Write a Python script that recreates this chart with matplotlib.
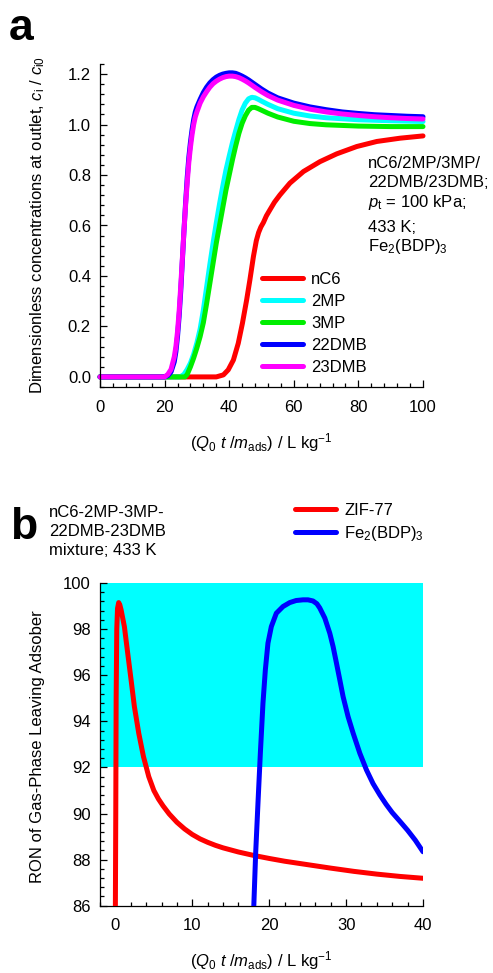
import numpy as np
import matplotlib
matplotlib.use("Agg")
import matplotlib.pyplot as plt
from matplotlib.ticker import MultipleLocator, FormatStrFormatter

plt.rcParams['font.family'] = ['Liberation Sans', 'DejaVu Sans']
plt.rcParams['mathtext.fontset'] = 'custom'
plt.rcParams['mathtext.rm'] = 'Liberation Sans'
plt.rcParams['mathtext.it'] = 'Liberation Sans:italic'
plt.rcParams['mathtext.bf'] = 'Liberation Sans:bold'

# ---------------- Panel a data ----------------
species = ["nC6", "2MP", "3MP", "22DMB", "23DMB"]
colors_a = ["#ff0000", "#00ffff", "#00ee00", "#0000ff", "#ff00ff"]

x_nC6 = [0, 36, 38.2, 39.7, 41.3, 42.8, 44.1, 45.4, 46.4, 47.5, 48.4, 49.1, 49.8, 50.6,
         51.5, 52.6, 54.0, 55.7, 58.8, 63.0, 68.1, 73.3, 79.5, 85.7, 92.9, 100]
y_nC6 = [0, 0, 0.008, 0.028, 0.067, 0.133, 0.213, 0.305, 0.384, 0.477, 0.54, 0.572,
         0.594, 0.612, 0.638, 0.662, 0.692, 0.721, 0.768, 0.814, 0.853, 0.884, 0.913,
         0.933, 0.946, 0.955]

x_2MP = [0, 24.8, 26, 27, 28, 29, 30, 31, 32, 33, 34, 35, 36, 37, 38, 39, 40, 41, 42, 43,
         44, 45, 46, 47, 48, 49, 50, 52, 55, 60, 65, 70, 80, 90, 100]
y_2MP = [0, 0, 0.01, 0.03, 0.055, 0.09, 0.135, 0.19, 0.265, 0.355, 0.445, 0.53, 0.61,
         0.685, 0.755, 0.82, 0.875, 0.928, 0.975, 1.02, 1.058, 1.085, 1.102, 1.108, 1.106,
         1.10, 1.093, 1.08, 1.063, 1.045, 1.034, 1.027, 1.019, 1.015, 1.012]

x_3MP = [0, 26.3, 27, 28, 29, 30, 31, 32, 33, 34, 35, 36, 37, 38, 39, 40, 41, 42, 43, 44,
         45, 46, 47, 48, 49, 50, 52, 55, 60, 65, 70, 80, 90, 100]
y_3MP = [0, 0, 0.01, 0.04, 0.075, 0.115, 0.16, 0.215, 0.29, 0.37, 0.45, 0.53, 0.60,
         0.67, 0.74, 0.80, 0.86, 0.915, 0.965, 1.005, 1.035, 1.057, 1.068, 1.068, 1.063,
         1.057, 1.045, 1.03, 1.013, 1.004, 0.999, 0.994, 0.992, 0.992]

x_22DMB = [0, 20, 21, 22, 23, 23.5, 24, 24.5, 25, 25.5, 26, 26.5, 27, 27.5, 28, 28.5, 29,
           29.5, 30, 31, 32, 33, 34, 35, 36, 37, 38, 39, 40, 41, 42, 43, 44, 45, 46, 47,
           48, 50, 52, 55, 60, 65, 70, 75, 80, 85, 90, 95, 100]
y_22DMB = [0, 0, 0.005, 0.02, 0.06, 0.10, 0.16, 0.24, 0.34, 0.46, 0.58, 0.69, 0.79, 0.87,
           0.93, 0.98, 1.02, 1.05, 1.07, 1.10, 1.127, 1.148, 1.165, 1.178, 1.188, 1.195,
           1.200, 1.203, 1.205, 1.205, 1.203, 1.198, 1.192, 1.185, 1.177, 1.168, 1.159,
           1.141, 1.125, 1.106, 1.085, 1.07, 1.059, 1.05, 1.044, 1.039, 1.036, 1.033, 1.031]

x_23DMB = [0, 20, 21, 22, 23, 23.5, 24, 24.5, 25, 25.5, 26, 26.5, 27, 27.5, 28, 28.5, 29,
           29.5, 30, 31, 32, 33, 34, 35, 36, 37, 38, 39, 40, 41, 42, 43, 44, 45, 46, 47,
           48, 50, 52, 55, 60, 65, 70, 75, 80, 85, 90, 95, 100]
y_23DMB = [0, 0, 0.01, 0.03, 0.08, 0.12, 0.18, 0.26, 0.36, 0.47, 0.58, 0.68, 0.77, 0.85,
           0.91, 0.96, 1.00, 1.03, 1.05, 1.085, 1.11, 1.13, 1.148, 1.162, 1.172, 1.18,
           1.186, 1.19, 1.192, 1.192, 1.19, 1.186, 1.18, 1.173, 1.165, 1.156, 1.147, 1.13,
           1.115, 1.097, 1.076, 1.061, 1.05, 1.042, 1.036, 1.031, 1.027, 1.024, 1.022]

# ---------------- Panel b data ----------------
x_ZIF77 = [0, 0.05, 0.1, 0.18, 0.28, 0.43, 0.58, 0.74, 1.17, 1.6, 2.04, 2.47, 3.04, 3.65,
           4.34, 5.0, 5.6, 6.2, 7.0, 8.0, 9.0, 10.0, 11.0, 12.0, 13.0, 14.0, 16.0, 18.0,
           20.0, 22.0, 25.0, 28.0, 31.0, 34.0, 37.0, 40.0]
y_ZIF77 = [86, 90, 95, 98, 98.9, 99.15, 99.05, 98.84, 98.11, 96.96, 95.8, 94.64, 93.48,
           92.47, 91.6, 91.0, 90.63, 90.33, 89.98, 89.62, 89.33, 89.09, 88.9, 88.75, 88.62,
           88.51, 88.33, 88.18, 88.05, 87.93, 87.78, 87.63, 87.49, 87.37, 87.27, 87.19]

x_FeBDP = [18.0, 18.24, 18.54, 18.85, 19.19, 19.5, 19.84, 20.28, 20.93, 21.8, 22.67, 23.5,
           24.4, 25.05, 25.7, 26.2, 26.57, 27.23, 27.88, 28.31, 28.75, 29.18, 29.61, 30.26,
           30.92, 31.79, 32.65, 33.5, 34.4, 35.2, 36.0, 37.0, 38.0, 39.0, 40.0]
y_FeBDP = [86.0, 88.27, 90.44, 92.61, 94.78, 96.23, 97.39, 98.11, 98.69, 98.98, 99.15,
           99.24, 99.27, 99.27, 99.22, 99.1, 98.92, 98.48, 97.82, 97.24, 96.52, 95.8, 95.07,
           94.2, 93.48, 92.61, 91.89, 91.3, 90.8, 90.4, 90.04, 89.66, 89.27, 88.84, 88.34]
labels_b = ["ZIF-77", r"Fe$_2$(BDP)$_3$"]
colors_b = ["#ff0000", "#0000ff"]

W, H = 493, 973
FS = 12
LW = 3.6

fig = plt.figure(figsize=(W / 100, H / 100), dpi=100)


def fx(px):
    return px / W


def fy(py):
    return 1 - py / H


def style_axes(ax, xpad, ypad):
    ax.spines['top'].set_visible(False)
    ax.spines['right'].set_visible(False)
    ax.tick_params(which='both', direction='in', labelsize=FS, width=0.9)
    ax.tick_params(which='major', length=5)
    ax.tick_params(which='minor', length=3)
    ax.tick_params(axis='x', which='major', pad=xpad)
    ax.tick_params(axis='y', which='major', pad=ypad)
    for s in ('left', 'bottom'):
        ax.spines[s].set_linewidth(0.9)


# ---------- Panel a ----------
axa = fig.add_axes([fx(100), fy(387), 323 / W, 323 / H])
xs_a = [x_nC6, x_2MP, x_3MP, x_22DMB, x_23DMB]
ys_a = [y_nC6, y_2MP, y_3MP, y_22DMB, y_23DMB]
for xs, ys, c, lab in zip(xs_a, ys_a, colors_a, species):
    axa.plot(xs, ys, color=c, lw=LW, label=lab, solid_capstyle='round',
             solid_joinstyle='round', clip_on=False)
axa.set_xlim(0, 100)
axa.set_ylim(-0.04, 1.24)
axa.xaxis.set_major_locator(MultipleLocator(20))
axa.xaxis.set_minor_locator(MultipleLocator(4))
axa.yaxis.set_major_locator(MultipleLocator(0.2))
axa.yaxis.set_minor_locator(MultipleLocator(0.04))
axa.yaxis.set_major_formatter(FormatStrFormatter('%.1f'))
style_axes(axa, 9, 6.5)

leg_a = axa.legend(loc='upper left', bbox_to_anchor=(fx(262), fy(272)),
                   bbox_transform=fig.transFigure, frameon=False, fontsize=FS,
                   handlelength=2.45, handletextpad=0.5, labelspacing=0.42,
                   borderpad=0, borderaxespad=0)

fig.text(fx(38), fy(225), r"Dimensionless concentrations at outlet, $c_\mathrm{i}$ / $c_\mathrm{i0}$",
         rotation=90, ha='center', va='center', fontsize=FS)
fig.text(fx(261), fy(443), r"($Q_0\ t\ /m_\mathrm{ads}$) / L kg$^{-1}$",
         ha='center', va='center', fontsize=FS)

ann_lines = [("nC6/2MP/3MP/", 168), ("22DMB/23DMB;", 187), (r"$p_\mathrm{t}$ = 100 kPa;", 207),
             ("433 K;", 232), (r"Fe$_2$(BDP)$_3$", 251)]
for t, yb in ann_lines:
    fig.text(fx(368), fy(yb), t, ha='left', va='baseline', fontsize=FS)

fig.text(fx(9), fy(40), "a", fontsize=32, fontweight='bold', ha='left', va='baseline')

# ---------- Panel b ----------
axb = fig.add_axes([fx(100), fy(905.7), 323 / W, 322.7 / H])
axb.axhspan(92, 100, color='#00ffff', lw=0, zorder=0)
for xs, ys, c, lab in zip([x_ZIF77, x_FeBDP], [y_ZIF77, y_FeBDP], colors_b, labels_b):
    axb.plot(xs, ys, color=c, lw=LW, label=lab, solid_capstyle='round',
             solid_joinstyle='round', zorder=3)
axb.set_xlim(-2, 40)
axb.set_ylim(86, 100)
axb.xaxis.set_major_locator(MultipleLocator(10))
axb.xaxis.set_minor_locator(MultipleLocator(2))
axb.yaxis.set_major_locator(MultipleLocator(2))
axb.yaxis.set_minor_locator(MultipleLocator(0.4))
style_axes(axb, 9, 6.5)

leg_b = axb.legend(loc='upper left', bbox_to_anchor=(fx(295), fy(503)),
                   bbox_transform=fig.transFigure, frameon=False, fontsize=FS,
                   handlelength=2.45, handletextpad=0.5, labelspacing=0.35,
                   borderpad=0, borderaxespad=0)

fig.text(fx(37.5), fy(747), "RON of Gas-Phase Leaving Adsober",
         rotation=90, ha='center', va='center', fontsize=FS)
fig.text(fx(261), fy(961), r"($Q_0\ t\ /m_\mathrm{ads}$) / L kg$^{-1}$",
         ha='center', va='center', fontsize=FS)

for t, yb in [("nC6-2MP-3MP-", 516.7), ("22DMB-23DMB", 536), ("mixture; 433 K", 555)]:
    fig.text(fx(49), fy(yb), t, ha='left', va='baseline', fontsize=FS)

fig.text(fx(10), fy(539), "b", fontsize=32, fontweight='bold', ha='left', va='baseline')

fig.savefig("out.png", dpi=100)
